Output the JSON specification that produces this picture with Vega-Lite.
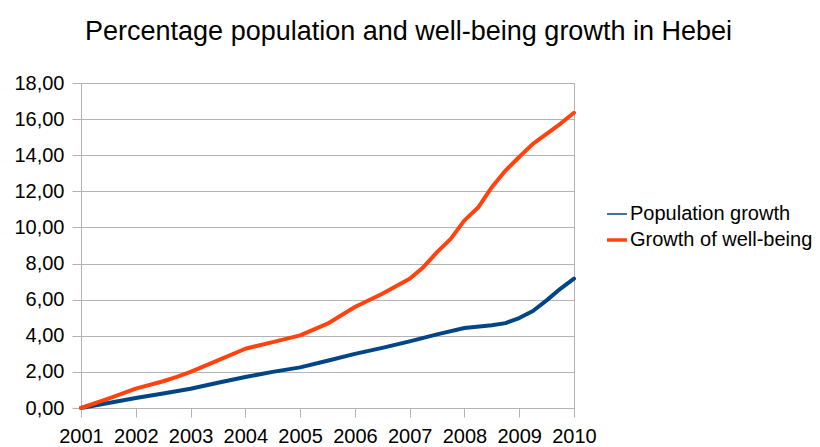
{
  "$schema": "https://vega.github.io/schema/vega-lite/v6.json",
  "autosize": "none",
  "width": 493,
  "height": 325,
  "padding": {"left": 81, "top": 83, "right": 246, "bottom": 39},
  "background": "white",
  "title": {
    "text": "Percentage population and well-being growth in Hebei",
    "font": "Liberation Sans",
    "fontSize": 27,
    "letterSpacing": 0.4,
    "fontWeight": "normal",
    "color": "#000000",
    "anchor": "middle",
    "dx": 81,
    "offset": 27
  },
  "config": {
    "font": "Liberation Sans",
    "view": {"stroke": "#b3b3b3", "strokeWidth": 1}
  },
  "data": {
    "values": [
      {"year": 2001, "series": "Population growth", "value": 0},
      {"year": 2001.5, "series": "Population growth", "value": 0.28},
      {"year": 2002, "series": "Population growth", "value": 0.55},
      {"year": 2002.5, "series": "Population growth", "value": 0.8},
      {"year": 2003, "series": "Population growth", "value": 1.07},
      {"year": 2003.5, "series": "Population growth", "value": 1.4},
      {"year": 2004, "series": "Population growth", "value": 1.72},
      {"year": 2004.5, "series": "Population growth", "value": 2.0},
      {"year": 2005, "series": "Population growth", "value": 2.25},
      {"year": 2005.5, "series": "Population growth", "value": 2.62},
      {"year": 2006, "series": "Population growth", "value": 3.0},
      {"year": 2006.5, "series": "Population growth", "value": 3.33},
      {"year": 2007, "series": "Population growth", "value": 3.69},
      {"year": 2007.5, "series": "Population growth", "value": 4.08},
      {"year": 2008, "series": "Population growth", "value": 4.43},
      {"year": 2008.5, "series": "Population growth", "value": 4.58},
      {"year": 2008.75, "series": "Population growth", "value": 4.7},
      {"year": 2009, "series": "Population growth", "value": 4.98},
      {"year": 2009.25, "series": "Population growth", "value": 5.37},
      {"year": 2009.5, "series": "Population growth", "value": 5.96},
      {"year": 2009.75, "series": "Population growth", "value": 6.6},
      {"year": 2010, "series": "Population growth", "value": 7.16},
      {"year": 2001, "series": "Growth of well-being", "value": 0},
      {"year": 2001.5, "series": "Growth of well-being", "value": 0.52},
      {"year": 2002, "series": "Growth of well-being", "value": 1.07},
      {"year": 2002.5, "series": "Growth of well-being", "value": 1.48},
      {"year": 2002.75, "series": "Growth of well-being", "value": 1.72},
      {"year": 2003, "series": "Growth of well-being", "value": 2.0},
      {"year": 2003.5, "series": "Growth of well-being", "value": 2.64},
      {"year": 2004, "series": "Growth of well-being", "value": 3.28},
      {"year": 2004.5, "series": "Growth of well-being", "value": 3.65},
      {"year": 2005, "series": "Growth of well-being", "value": 4.02},
      {"year": 2005.5, "series": "Growth of well-being", "value": 4.67},
      {"year": 2006, "series": "Growth of well-being", "value": 5.59},
      {"year": 2006.5, "series": "Growth of well-being", "value": 6.33},
      {"year": 2007, "series": "Growth of well-being", "value": 7.16},
      {"year": 2007.25, "series": "Growth of well-being", "value": 7.8},
      {"year": 2007.5, "series": "Growth of well-being", "value": 8.63},
      {"year": 2007.75, "series": "Growth of well-being", "value": 9.37},
      {"year": 2008, "series": "Growth of well-being", "value": 10.39},
      {"year": 2008.25, "series": "Growth of well-being", "value": 11.1},
      {"year": 2008.5, "series": "Growth of well-being", "value": 12.23},
      {"year": 2008.75, "series": "Growth of well-being", "value": 13.15},
      {"year": 2009, "series": "Growth of well-being", "value": 13.9},
      {"year": 2009.25, "series": "Growth of well-being", "value": 14.63},
      {"year": 2009.5, "series": "Growth of well-being", "value": 15.18},
      {"year": 2009.75, "series": "Growth of well-being", "value": 15.74},
      {"year": 2010, "series": "Growth of well-being", "value": 16.35}
    ]
  },
  "mark": {"type": "line", "strokeWidth": 4, "strokeCap": "round", "strokeJoin": "round"},
  "encoding": {
    "x": {
      "field": "year",
      "type": "quantitative",
      "scale": {"domain": [2001, 2010], "nice": false, "zero": false},
      "axis": {
        "title": null,
        "values": [2001, 2002, 2003, 2004, 2005, 2006, 2007, 2008, 2009, 2010],
        "format": "d",
        "grid": false,
        "domain": true,
        "domainColor": "#b3b3b3",
        "tickColor": "#b3b3b3",
        "tickSize": 9,
        "labelFontSize": 20,
        "labelColor": "#000000",
        "labelPadding": 9,
        "labelFlush": false,
        "labelOverlap": false
      }
    },
    "y": {
      "field": "value",
      "type": "quantitative",
      "scale": {"domain": [0, 18], "nice": false},
      "axis": {
        "title": null,
        "values": [0, 2, 4, 6, 8, 10, 12, 14, 16, 18],
        "labelExpr": "replace(format(datum.value, '.2f'), '.', ',')",
        "grid": true,
        "gridColor": "#b3b3b3",
        "domain": true,
        "domainColor": "#b3b3b3",
        "tickColor": "#b3b3b3",
        "tickSize": 9,
        "labelFontSize": 20,
        "labelColor": "#000000",
        "labelPadding": 8,
        "labelFlush": false,
        "labelOverlap": false
      }
    },
    "color": {
      "field": "series",
      "type": "nominal",
      "sort": ["Population growth", "Growth of well-being"],
      "scale": {"domain": ["Population growth", "Growth of well-being"], "range": ["#004586", "#ff420e"]},
      "legend": {
        "title": null,
        "orient": "none",
        "legendX": 526,
        "legendY": 121,
        "symbolType": "stroke",
        "symbolSize": 400,
        "symbolStrokeWidth": 2.5,
        "labelFontSize": 20,
        "labelColor": "#000000",
        "labelOffset": 3,
        "rowPadding": 6,
        "labelLimit": 300,
        "encode": {
          "symbols": {
            "update": {
              "strokeWidth": {"signal": "datum.value === 'Population growth' ? 1.5 : 3.5"}
            }
          }
        }
      }
    }
  }
}
